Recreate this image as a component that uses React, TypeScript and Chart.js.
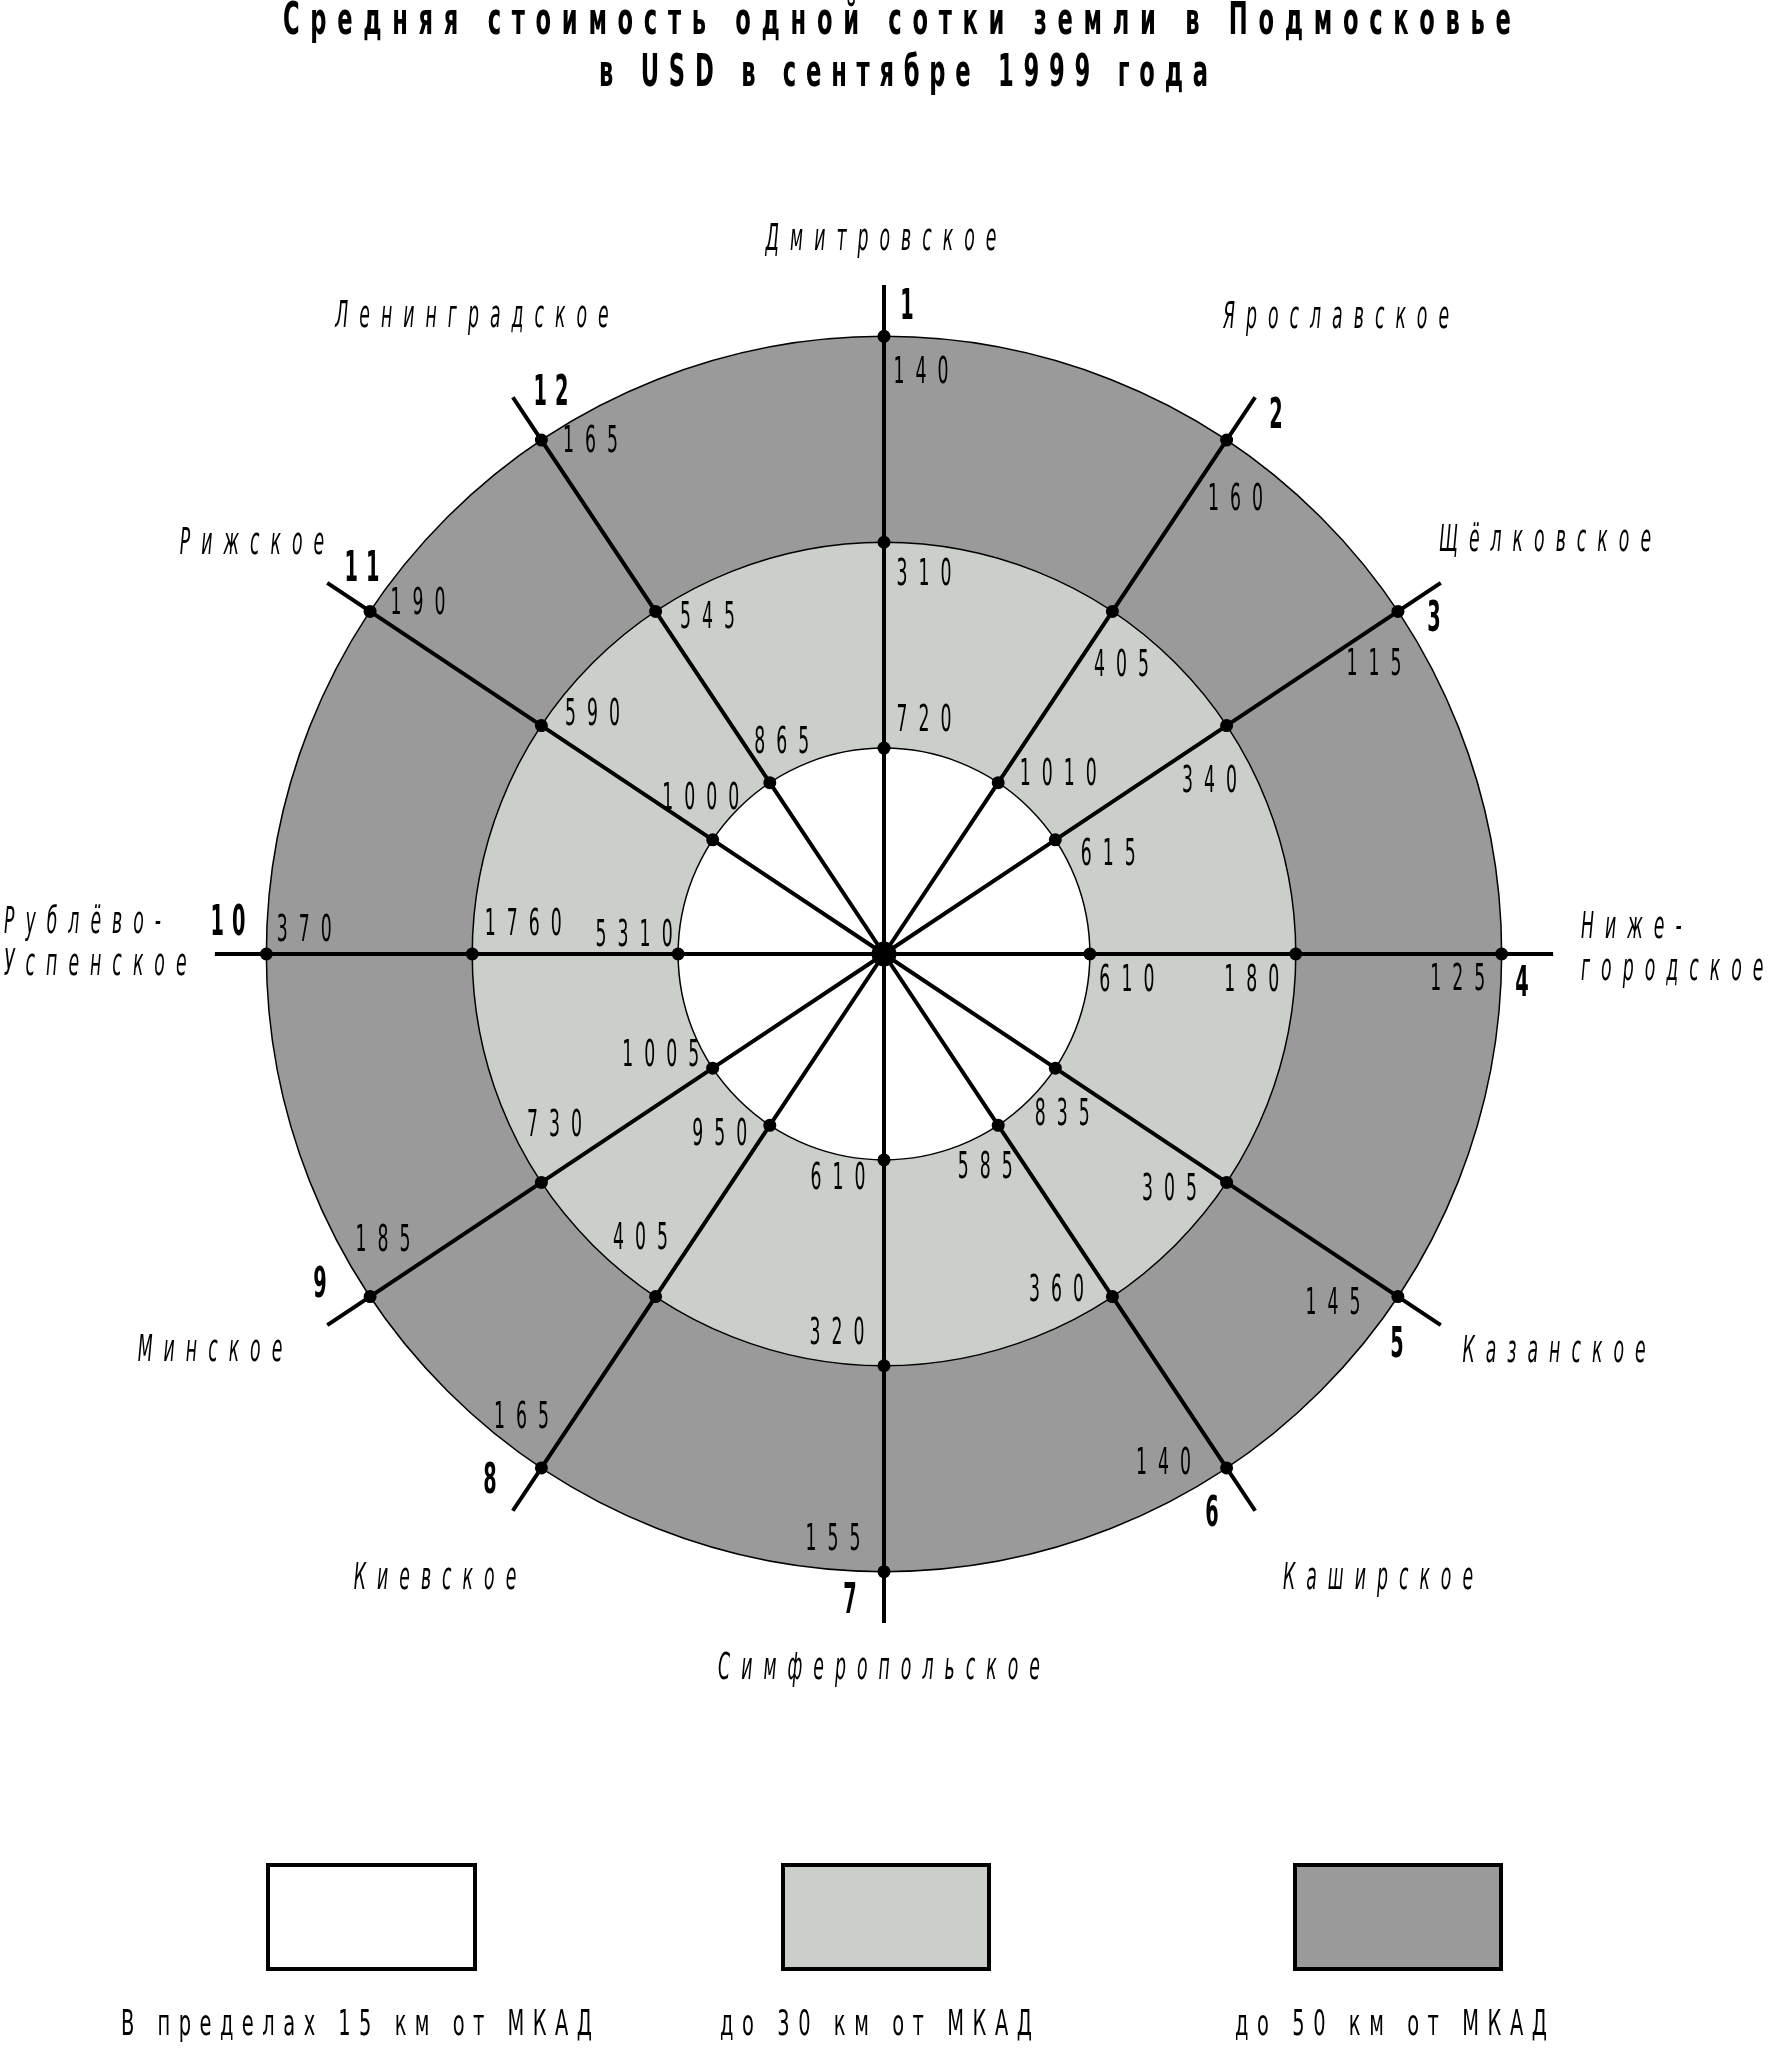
import React, { useEffect, useRef } from "react";
import { Chart, registerables } from "chart.js";

Chart.register(...registerables);

// ---------- data ----------
const TITLE_LINES = [
  "Средняя стоимость одной сотки земли в Подмосковье",
  "в USD в сентябре 1999 года",
];
const ROAD_NUMBERS = ["1", "2", "3", "4", "5", "6", "7", "8", "9", "10", "11", "12"];
const ROAD_NAMES = [
  ["Дмитровское"],
  ["Ярославское"],
  ["Щёлковское"],
  ["Ниже-", "городское"],
  ["Казанское"],
  ["Каширское"],
  ["Симферопольское"],
  ["Киевское"],
  ["Минское"],
  ["Рублёво-", "Успенское"],
  ["Рижское"],
  ["Ленинградское"],
];
// compass bearing of each road's spoke (degrees, counter-clockwise from east)
const ROAD_BEARINGS = [90, 56.31, 33.69, 0, -33.69, -56.31, -90, -123.69, -146.31, 180, 146.31, 123.69];
const PRICE_15KM = [720, 1010, 615, 610, 835, 585, 610, 950, 1005, 5310, 1000, 865];
const PRICE_30KM = [310, 405, 340, 180, 305, 360, 320, 405, 730, 1760, 590, 545];
const PRICE_50KM = [140, 160, 115, 125, 145, 140, 155, 165, 185, 370, 190, 165];
const ZONE_LABELS = ["В пределах 15 км от МКАД", "до 30 км от МКАД", "до 50 км от МКАД"];
const ZONE_RINGS = [1, 2, 3];

// ---------- style / layout ----------
const ZONE_COLORS = ["#ffffff", "#cbcfca", "#9a9a9a"];
const SPOKE_REACH = 3.25;
const AXIS_HALF = 3.4;
const W = 1768;
const H = 2048;
const CX = 884;
const CY = 954;
const HALF_PX = 700;

// value label offsets [zone15, zone30, zone50] per road, in px from its dot
const VALUE_OFFSETS: [number, number][][] = [
  [[40, -27], [40, 33], [37, 37]],
  [[60, -7], [9, 55], [9, 60]],
  [[53, 16], [-17, 57], [-24, 54]],
  [[37, 27], [-44, 27], [-44, 26]],
  [[7, 47], [-57, 8], [-65, 8]],
  [[-13, 43], [-56, -5], [-63, -4]],
  [[-46, 20], [-47, -31], [-51, -31]],
  [[-50, 10], [-15, -57], [-20, -50]],
  [[-52, -12], [13, -56], [13, -55]],
  [[-44, -18], [51, -29], [38, -23]],
  [[-12, -40], [51, -10], [48, -7]],
  [[12, -39], [52, 7], [49, 2]],
];
const NUMBER_POS: [number, number][] = [
  [23, -646], [392, -537], [550, -334], [638, 31], [513, 392], [328, 561],
  [-34, 648], [-394, 528], [-564, 332], [-656, -30], [-522, -384], [-333, -560],
];
// [dx, dy of first line, align]
const NAME_POS: [number, number, CanvasTextAlign][] = [
  [-3, -714, "center"], [452, -636, "center"], [661, -413, "center"], [697, -26, "left"],
  [670, 398, "center"], [494, 625, "center"], [-5, 715, "center"], [-449, 625, "center"],
  [-674, 397, "center"], [-880, -31, "left"], [-632, -410, "center"], [-412, -637, "center"],
];
const NAME_LINE_GAP = 42;
const LEGEND_BOXES = [
  [268, 1865, 207, 104],
  [783, 1865, 206, 104],
  [1295, 1865, 206, 104],
];
const LEGEND_TEXT_SPANS = [
  [121, 592],
  [720, 1032],
  [1235, 1547],
];
const LEGEND_TEXT_Y = 2026;
const TITLE_SPANS = [
  [283, 1511],
  [599, 1208],
];
const TITLE_Y = [22, 74];

const FONT_FAMILY = "'DejaVu Sans Condensed', 'DejaVu Sans', sans-serif";

function drawSpaced(
  ctx: CanvasRenderingContext2D,
  text: string,
  x: number,
  y: number,
  font: string,
  sx: number,
  spacing: number | null,
  align: CanvasTextAlign,
  fitWidth?: number
) {
  ctx.save();
  ctx.font = font;
  ctx.fillStyle = "#000";
  ctx.textBaseline = "middle";
  ctx.textAlign = "left";
  const chars = Array.from(text);
  const widths = chars.map((c) => ctx.measureText(c).width * sx);
  const sum = widths.reduce((a, b) => a + b, 0);
  let sp = spacing ?? 0;
  if (fitWidth !== undefined && chars.length > 1) sp = (fitWidth - sum) / (chars.length - 1);
  const total = sum + sp * (chars.length - 1);
  let cx = align === "center" ? x - total / 2 : align === "right" ? x - total : x;
  chars.forEach((c, i) => {
    ctx.save();
    ctx.translate(cx, y);
    ctx.scale(sx, 1);
    ctx.fillText(c, 0, 0);
    ctx.restore();
    cx += widths[i] + sp;
  });
  ctx.restore();
}

const ringsPlugin = {
  id: "rings",
  beforeDatasetsDraw(chart: any) {
    const ctx = chart.ctx as CanvasRenderingContext2D;
    const xs = chart.scales.x;
    const ys = chart.scales.y;
    const cx = xs.getPixelForValue(0);
    const cy = ys.getPixelForValue(0);
    const unit = xs.getPixelForValue(1) - cx;
    ctx.save();
    for (let z = ZONE_RINGS.length - 1; z >= 0; z--) {
      ctx.beginPath();
      ctx.arc(cx, cy, ZONE_RINGS[z] * unit, 0, Math.PI * 2);
      ctx.fillStyle = ZONE_COLORS[z];
      ctx.fill();
      ctx.lineWidth = 1.5;
      ctx.strokeStyle = "#000";
      ctx.stroke();
    }
    ctx.restore();
  },
};

const labelsPlugin = {
  id: "labels",
  afterDatasetsDraw(chart: any) {
    const ctx = chart.ctx as CanvasRenderingContext2D;
    const cx = chart.scales.x.getPixelForValue(0);
    const cy = chart.scales.y.getPixelForValue(0);
    const zoneValues = [PRICE_15KM, PRICE_30KM, PRICE_50KM];
    const valueFont = `37px ${FONT_FAMILY}`;
    const nameFont = `italic 37px ${FONT_FAMILY}`;
    const numFont = `bold 43px ${FONT_FAMILY}`;
    ROAD_NUMBERS.forEach((num, r) => {
      const meta = chart.getDatasetMeta(r + 1);
      for (let z = 0; z < 3; z++) {
        const pt = meta.data[z + 1];
        const [dx, dy] = VALUE_OFFSETS[r][z];
        drawSpaced(ctx, String(zoneValues[z][r]), pt.x + dx, pt.y + dy, valueFont, 0.52, 11, "center");
      }
      const [nx, ny] = NUMBER_POS[r];
      drawSpaced(ctx, num, cx + nx, cy + ny, numFont, 0.5, 8, "center");
      const [mx, my, align] = NAME_POS[r];
      ROAD_NAMES[r].forEach((line, li) => {
        drawSpaced(ctx, line, cx + mx, cy + my + li * NAME_LINE_GAP, nameFont, 0.52, 11, align);
      });
    });
  },
  afterDraw(chart: any) {
    const ctx = chart.ctx as CanvasRenderingContext2D;
    TITLE_LINES.forEach((line, i) => {
      const [a, b] = TITLE_SPANS[i];
      drawSpaced(ctx, line, a, TITLE_Y[i], `bold 45px ${FONT_FAMILY}`, 0.56, null, "left", b - a);
    });
    ZONE_LABELS.forEach((lab, i) => {
      const [x, y, w, h] = LEGEND_BOXES[i];
      ctx.save();
      ctx.fillStyle = ZONE_COLORS[i];
      ctx.fillRect(x, y, w, h);
      ctx.lineWidth = 4;
      ctx.strokeStyle = "#000";
      ctx.strokeRect(x, y, w, h);
      ctx.restore();
      const [a, b] = LEGEND_TEXT_SPANS[i];
      drawSpaced(ctx, lab, a, LEGEND_TEXT_Y, `36px ${FONT_FAMILY}`, 0.6, null, "left", b - a);
    });
  },
};

export default function App() {
  const ref = useRef<HTMLCanvasElement>(null);
  useEffect(() => {
    const canvas = ref.current;
    if (!canvas) return;
    const rad = (d: number) => (d * Math.PI) / 180;
    const spokeDatasets = ROAD_BEARINGS.map((b, r) => {
      const c = Math.cos(rad(b));
      const s = Math.sin(rad(b));
      const radii = [0, ...ZONE_RINGS, SPOKE_REACH];
      return {
        label: ROAD_NAMES[r].join(""),
        data: radii.map((k) => ({ x: k * c, y: k * s })),
        showLine: true,
        borderColor: "#000",
        borderWidth: 4,
        pointRadius: radii.map((k, i) => (i === 0 || i === radii.length - 1 ? 0 : 6.5)),
        pointBackgroundColor: "#000",
        pointBorderWidth: 0,
        pointHoverRadius: 0,
      };
    });
    const chart = new Chart(canvas, {
      type: "scatter",
      data: {
        datasets: [
          {
            label: "МКАД",
            data: [{ x: 0, y: 0 }],
            pointRadius: 12.5,
            pointBackgroundColor: "#000",
            pointBorderWidth: 0,
          } as any,
          ...(spokeDatasets as any[]),
        ],
      },
      options: {
        animation: false,
        responsive: false,
        devicePixelRatio: 1,
        events: [],
        layout: {
          padding: {
            left: CX - HALF_PX,
            right: W - CX - HALF_PX,
            top: CY - HALF_PX,
            bottom: H - CY - HALF_PX,
          },
        },
        scales: {
          x: { type: "linear", min: -AXIS_HALF, max: AXIS_HALF, display: false },
          y: { type: "linear", min: -AXIS_HALF, max: AXIS_HALF, display: false },
        },
        plugins: {
          legend: { display: false },
          tooltip: { enabled: false },
          title: { display: false },
        },
      },
      plugins: [ringsPlugin, labelsPlugin],
    });
    return () => chart.destroy();
  }, []);
  return (
    <div style={{ position: "absolute", left: 0, top: 0, width: W, height: H, background: "#fff" }}>
      <canvas ref={ref} width={W} height={H} style={{ display: "block", width: W, height: H }} />
    </div>
  );
}
